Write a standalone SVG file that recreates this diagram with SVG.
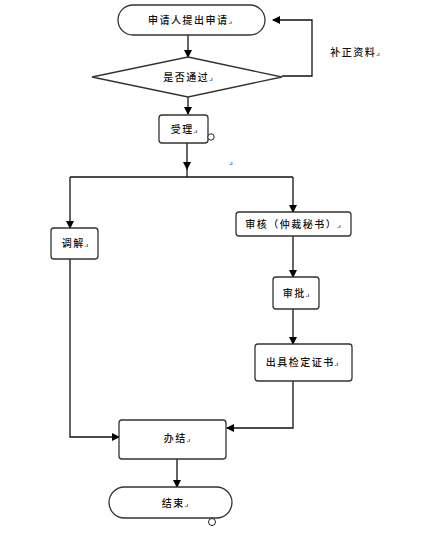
<svg xmlns="http://www.w3.org/2000/svg" width="442" height="548" viewBox="0 0 442 548">
<defs>
<marker id="ah" markerWidth="8" markerHeight="8" refX="7" refY="4" orient="auto" markerUnits="userSpaceOnUse">
<path d="M0,0 L8,4 L0,8 Z" fill="#000"/>
</marker>
<style>
.box{fill:#fff;stroke:#333;stroke-width:1.3}
.t{font-family:"Noto Sans CJK SC","Noto Sans",sans-serif;font-size:10px;fill:#111;text-anchor:middle;letter-spacing:1.5px;font-weight:500}
.pm{font-size:6px;letter-spacing:0}
.ln{fill:none;stroke:#111;stroke-width:1.3}
.a{marker-end:url(#ah)}
.anc{fill:#fff;stroke:#222;stroke-width:1}
</style>
</defs>
<rect width="442" height="548" fill="#fff"/>
<g id="connectors">
<path class="ln a" d="M188,35 V57"/>
<path class="ln a" d="M282,76 H312 V20 H273"/>
<path class="ln a" d="M188,97 V114"/>
<path class="ln a" d="M187,143 V169"/>
<path class="ln" d="M187,168 V177"/>
<path class="ln" d="M70,177 H293"/>
<path class="ln a" d="M70,177 V228"/>
<path class="ln a" d="M293,177 V212"/>
<path class="ln a" d="M293,236 V277"/>
<path class="ln a" d="M293,309 V344"/>
<path class="ln a" d="M293,381 V428 H227"/>
<path class="ln a" d="M70,259 V437 H119"/>
<path class="ln a" d="M177,459 V487"/>
<text class="t" x="355" y="56">补正资料<tspan class="pm">.ı</tspan></text>
</g>
<g id="n-start">
<rect class="box" x="118" y="5" width="147" height="30" rx="15"/>
<text class="t" x="190" y="24">申请人提出申请<tspan class="pm">.ı</tspan></text>
</g>
<g id="n-decision">
<polygon class="box" points="188,57 282,77 188,97 92,77"/>
<text class="t" x="188" y="81">是否通过<tspan class="pm">.ı</tspan></text>
</g>
<g id="n-accept">
<rect class="box" x="159" y="115" width="49" height="28" rx="3"/>
<text class="t" x="184" y="133">受理<tspan class="pm">.ı</tspan></text>
<circle class="anc" cx="211" cy="137" r="3.2"/>
</g>
<text class="t pm" x="231" y="165">.ı</text>
<g id="n-mediate">
<rect class="box" x="51" y="228" width="47" height="31" rx="3"/>
<text class="t" x="75" y="247">调解<tspan class="pm">.ı</tspan></text>
</g>
<g id="n-review">
<rect class="box" x="236" y="212" width="115" height="24" rx="3"/>
<text class="t" x="293" y="228">审核（仲裁秘书）<tspan class="pm">.ı</tspan></text>
</g>
<g id="n-approve">
<rect class="box" x="273" y="277" width="46" height="32" rx="3"/>
<text class="t" x="296" y="297">审批<tspan class="pm">.ı</tspan></text>
</g>
<g id="n-cert">
<rect class="box" x="255" y="344" width="97" height="37" rx="3"/>
<text class="t" x="302" y="366">出具检定证书<tspan class="pm">.ı</tspan></text>
</g>
<g id="n-finish">
<rect class="box" x="119" y="420" width="107" height="39" rx="3"/>
<text class="t" x="177" y="442">办结<tspan class="pm">.ı</tspan></text>
</g>
<g id="n-end">
<rect class="box" x="109" y="487" width="123" height="31" rx="15.5"/>
<text class="t" x="175" y="507">结束<tspan class="pm">.ı</tspan></text>
<circle class="anc" cx="212" cy="522" r="3.5"/>
</g>
</svg>
